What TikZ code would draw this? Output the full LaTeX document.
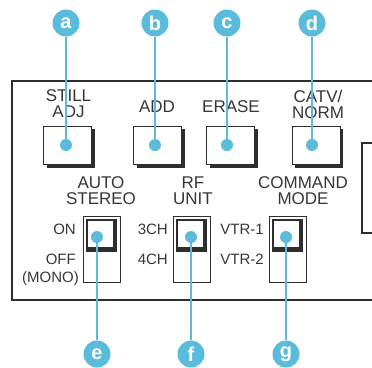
\documentclass[tikz,border=0pt]{standalone}
\usepackage{fontspec}
\setmainfont{Liberation Sans}
\definecolor{tagblue}{HTML}{5BBBDA}
\definecolor{ink}{HTML}{2E2E2E}
\definecolor{print}{HTML}{363636}
\tikzset{
  callout/.style={circle,fill=tagblue,text=white,minimum size=27pt,inner sep=0pt,
    font=\fontsize{20}{20}\selectfont\bfseries},
  knob/.style={circle,fill=tagblue,minimum size=12pt,inner sep=0pt},
  leader/.style={draw=tagblue,line width=1.3pt},
  panel/.style={draw=ink,line width=1.8pt},
  caption/.style={text=print,align=center,inner sep=0pt,
    font=\fontsize{17}{16}\selectfont},
  setting/.style={text=print,inner sep=0pt,anchor=east,font=\fontsize{15}{15}\selectfont}
}
\begin{document}
\begin{tikzpicture}[x=1pt,y=-1pt]
\useasboundingbox (0,0) rectangle (372,367);

% panel outline
\draw[panel] (372,81) -- (12,81) -- (12,300) -- (372,300);
\draw[panel,line width=1.4pt] (372,143) -- (362,143) -- (362,233) -- (372,233);

% push buttons
\foreach \cx in {67.5,157.5,230.5,316}{
  \fill[ink] (\cx-21,129) rectangle (\cx+27,168);
  \draw[ink,line width=1pt,fill=white] (\cx-24,126) rectangle (\cx+24,164);
}

% slide switches
\foreach \sx in {83,173,269}{
  \draw[ink,line width=1pt,fill=white] (\sx,216) rectangle (\sx+37,282);
  \fill[ink] (\sx+3,219) rectangle (\sx+34,252);
  \fill[white] (\sx+5,221) rectangle (\sx+30,247);
}

% labels
\node[caption] (lstill) at (68.5,104) {STILL\\ADJ};
\node[caption] (ladd) at (157,107) {ADD};
\node[caption] (lerase) at (231,107) {ERASE};
\node[caption] (lcatv) at (318,104) {CATV/\\NORM};
\node[caption] (lauto) at (101,191) {AUTO\\STEREO};
\node[caption] (lrf) at (193,191) {RF\\UNIT};
\node[caption] (lcmd) at (303,191) {COMMAND\\MODE};

\node[setting] (pon) at (76,229) {ON};
\node[setting] (poff) at (76,259) {OFF};
\node[setting] (pmono) at (79,279) {(MONO)};
\node[setting] (p3ch) at (168,229) {3CH};
\node[setting] (p4ch) at (168,259) {4CH};
\node[setting] (pvtra) at (264,229) {VTR-1};
\node[setting] (pvtrb) at (264,259) {VTR-2};

% knobs
\node[knob] (ka) at (66,145) {};
\node[knob] (kb) at (155,145) {};
\node[knob] (kc) at (227,145) {};
\node[knob] (kd) at (312,145) {};
\node[knob] (ke) at (97,237) {};
\node[knob] (kf) at (191,237) {};
\node[knob] (kg) at (286,237) {};

% callouts
\node[callout] (ca) at (66,23) {a};
\node[callout] (cb) at (155,23) {b};
\node[callout] (cc) at (227,23) {c};
\node[callout] (cd) at (312,23) {d};
\node[callout] (ce) at (97,354) {e};
\node[callout] (cf) at (191,354) {f};
\node[callout] (cg) at (286,354) {g};

\foreach \t/\k in {ca/ka,cb/kb,cc/kc,cd/kd,ce/ke,cf/kf,cg/kg}
  \draw[leader] (\t) -- (\k);
\end{tikzpicture}
\end{document}
